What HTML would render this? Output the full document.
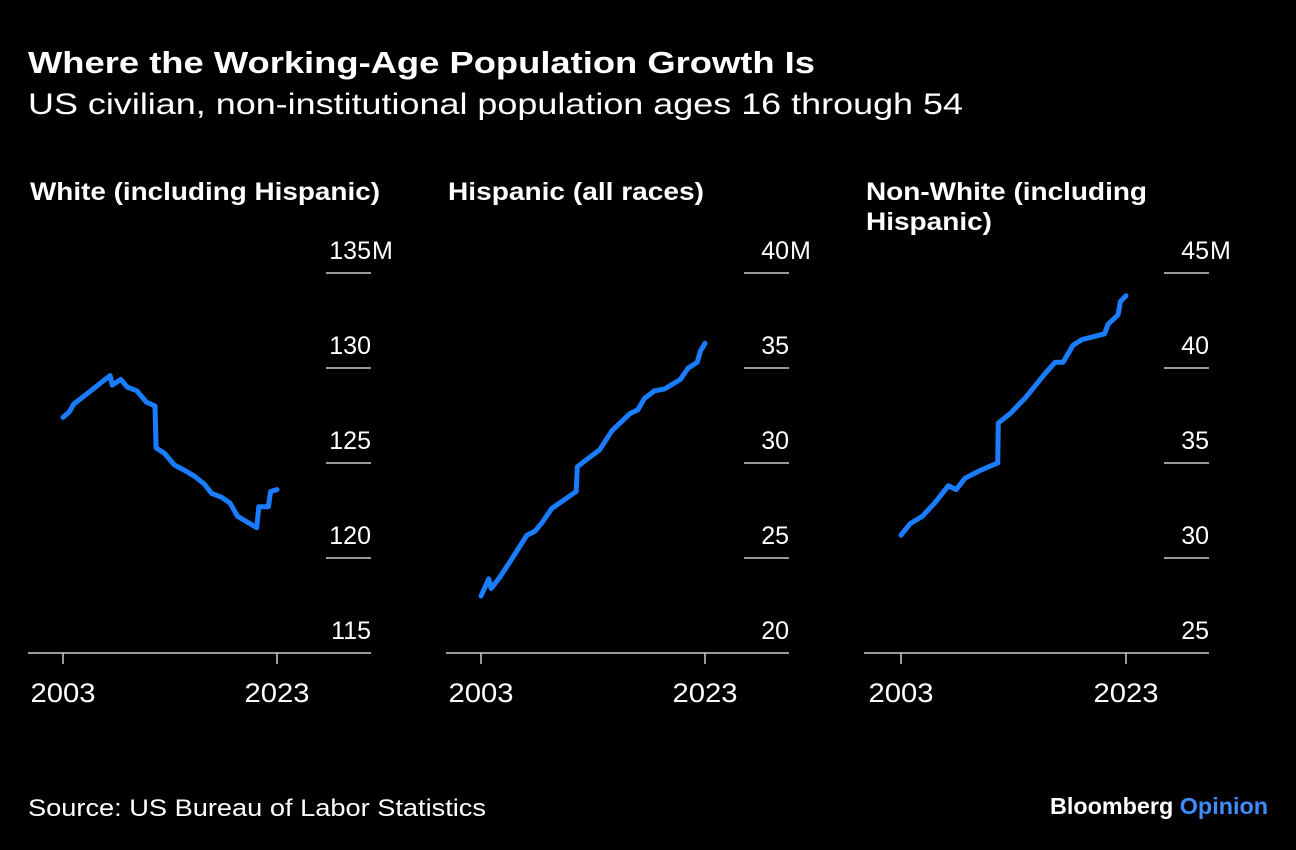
<!DOCTYPE html>
<html><head><meta charset="utf-8">
<style>
body{margin:0;background:#000;width:1296px;height:850px;overflow:hidden;font-family:"Liberation Sans",Arial,sans-serif;color:#fff}
svg{position:absolute;left:0;top:0}
</style></head>
<body>
<svg width="1296" height="850">
<text x="28" y="73" font-size="31" font-weight="bold" fill="#fff" textLength="787" lengthAdjust="spacingAndGlyphs">Where the Working-Age Population Growth Is</text>
<text x="28" y="114" font-size="30" fill="#fff" textLength="935" lengthAdjust="spacingAndGlyphs">US civilian, non-institutional population ages 16 through 54</text>
<text x="28" y="816" font-size="24" fill="#fff" textLength="458" lengthAdjust="spacingAndGlyphs">Source: US Bureau of Labor Statistics</text>
<text x="1050" y="814" font-size="23" font-weight="bold" fill="#fff" textLength="218" lengthAdjust="spacingAndGlyphs">Bloomberg <tspan fill="#3e8cff">Opinion</tspan></text>
<g id="panels"></g>
</svg>
<script>
// Panel 1: White (including Hispanic)
const whiteYears=[2003,2003.6,2004,2005.6,2006.5,2007.4,2007.6,2008.4,2009,2009.9,2010.8,2011.6,2011.7,2012.5,2013.4,2014.4,2015.3,2016.2,2016.9,2017.8,2018.6,2019.3,2021.1,2021.3,2022.2,2022.4,2023];
const whiteValues=[127.4,127.7,128.1,128.8,129.2,129.6,129.1,129.4,129.0,128.8,128.2,128.0,125.8,125.5,124.9,124.6,124.3,123.9,123.4,123.2,122.9,122.2,121.6,122.7,122.7,123.5,123.6];
const whiteTicks=[115,120,125,130,135];
// Panel 2: Hispanic (all races)
const hispYears=[2003,2003.7,2003.9,2004.7,2005.8,2007.1,2007.8,2008.5,2009.3,2011.5,2011.6,2012.7,2013.6,2014.7,2016.3,2017,2017.6,2018.5,2019.4,2020.8,2021.5,2022.3,2022.6,2023];
const hispValues=[23.0,23.9,23.4,24.0,25.0,26.2,26.4,26.9,27.6,28.5,29.8,30.3,30.7,31.7,32.6,32.8,33.4,33.8,33.9,34.4,35.0,35.3,35.9,36.3];
const hispTicks=[20,25,30,35,40];
// Panel 3: Non-White (including Hispanic)
const nwYears=[2003,2003.8,2004.9,2006,2007.2,2007.9,2008.7,2010,2011.6,2011.65,2012.7,2014,2014.7,2015.8,2016.7,2017.4,2018.3,2019.1,2019.8,2021.1,2021.4,2022.3,2022.5,2023];
const nwValues=[31.2,31.8,32.2,32.9,33.8,33.6,34.2,34.6,35.0,37.1,37.6,38.4,38.9,39.7,40.3,40.3,41.2,41.5,41.6,41.8,42.3,42.8,43.5,43.8];
const nwTicks=[25,30,35,40,45];
const xTickYears=[2003,2023];

const NS="http://www.w3.org/2000/svg";
const root=document.getElementById('panels');
function mk(tag,attrs,parent){const e=document.createElementNS(NS,tag);for(const k in attrs)e.setAttribute(k,attrs[k]);(parent||root).appendChild(e);return e;}
const panels=[
 {title:["White (including Hispanic)"],tw:[350],ax0:28,ax1:371,x0:63,x1:277,years:whiteYears,vals:whiteValues,ticks:whiteTicks,key:'white'},
 {title:["Hispanic (all races)"],tw:[256],ax0:446,ax1:789,x0:481,x1:705,years:hispYears,vals:hispValues,ticks:hispTicks,key:'hispanic'},
 {title:["Non-White (including","Hispanic)"],tw:[281,126],ax0:864,ax1:1209,x0:901,x1:1126,years:nwYears,vals:nwValues,ticks:nwTicks,key:'non-white'}
];
const yBase=653, yTop=273;
panels.forEach(p=>{
  const g=mk('g',{});
  
  
  const tmin=p.ticks[0],tmax=p.ticks[p.ticks.length-1];
  const ys=v=>yBase-(v-tmin)/(tmax-tmin)*(yBase-yTop);
  const xs=yr=>p.x0+(yr-2003)/(2023-2003)*(p.x1-p.x0);
  p.title.forEach((t,i)=>{
    const tt=mk('text',{x:p.ax0+2,y:200+i*30,'font-size':25,'font-weight':'bold',fill:'#fff',textLength:p.tw[i],lengthAdjust:'spacingAndGlyphs'},g);
    tt.textContent=t;
    
    
  });
  p.ticks.forEach((v,i)=>{
    const y=ys(v);
    if(i>0){
      const l=mk('line',{x1:p.ax1-45,x2:p.ax1,y1:y,y2:y,stroke:'#ccc','stroke-width':1.5},g);
      
      
    }
    const t=mk('text',{x:p.ax1,y:y-14,'font-size':25,fill:'#fff','text-anchor':'end'},g);
    t.textContent=String(v);
    
    
    if(i===p.ticks.length-1){
      const m=mk('text',{x:p.ax1+1,y:y-14,'font-size':25,fill:'#fff'},g);
      m.textContent='M';
      
      
    }
  });
  const ax=mk('line',{x1:p.ax0,x2:p.ax1,y1:yBase,y2:yBase,stroke:'#ccc','stroke-width':1.5},g);
  
  
  xTickYears.forEach(yr=>{
    const x=xs(yr);
    const tk=mk('line',{x1:x,x2:x,y1:yBase,y2:yBase+11,stroke:'#ccc','stroke-width':1.5},g);
    
    
    const t=mk('text',{x:x,y:702,'font-size':27,fill:'#fff','text-anchor':'middle',textLength:65,lengthAdjust:'spacingAndGlyphs'},g);
    t.textContent=String(yr);
    
    
  });
  const d=p.years.map((yr,i)=>(i?'L':'M')+xs(yr).toFixed(1)+' '+ys(p.vals[i]).toFixed(1)).join(' ');
  const path=mk('path',{d:d,fill:'none',stroke:'#1a7cff','stroke-width':5,'stroke-linejoin':'round','stroke-linecap':'round'},g);
  
  
});
</script>
</body></html>
